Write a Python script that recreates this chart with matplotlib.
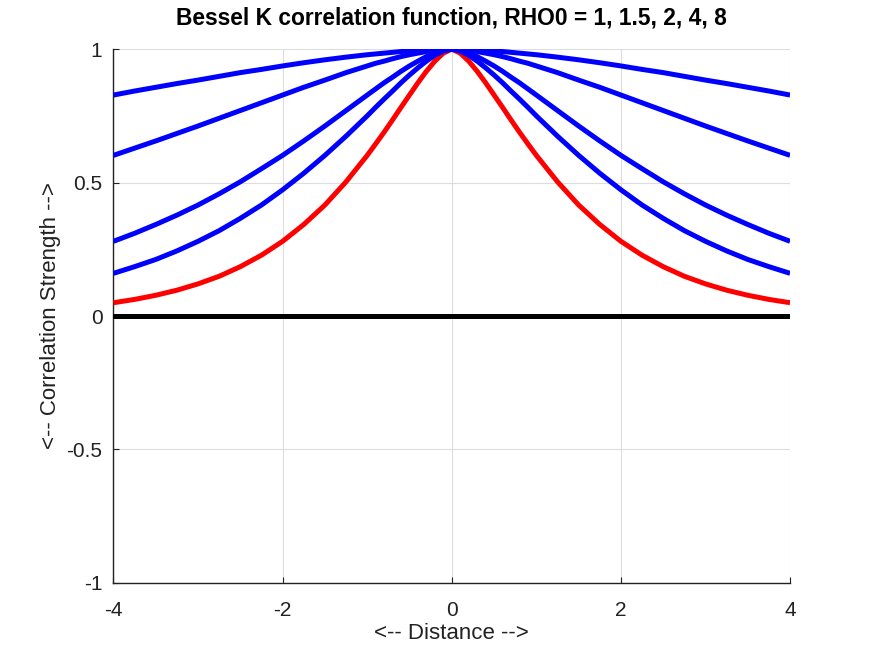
import numpy as np
import matplotlib
matplotlib.use("Agg")
import matplotlib.pyplot as plt

plt.rcParams['font.family'] = ['Liberation Sans', 'DejaVu Sans']

# distances (positive half; curves are symmetric about 0)
dist_half = [0.0, 0.1, 0.2, 0.3, 0.4, 0.5, 0.6, 0.7, 0.8, 0.9, 1.0,
             1.25, 1.5, 1.75, 2.0, 2.25, 2.5, 2.75, 3.0, 3.25, 3.5, 3.75, 4.0]

rho_1 = [1.0, 0.985, 0.955, 0.917, 0.874, 0.828, 0.782, 0.735, 0.689, 0.645, 0.602,
         0.503, 0.416, 0.343, 0.280, 0.228, 0.185, 0.149, 0.1205, 0.0968, 0.0778, 0.0623, 0.0499]
rho_1_5 = [1.0, 0.993, 0.977, 0.955, 0.930, 0.903, 0.874, 0.843, 0.813, 0.782, 0.750,
           0.674, 0.602, 0.535, 0.473, 0.416, 0.366, 0.320, 0.280, 0.244, 0.212, 0.185, 0.160]
rho_2 = [1.0, 0.996, 0.985, 0.972, 0.955, 0.937, 0.917, 0.895, 0.874, 0.851, 0.828,
         0.770, 0.712, 0.656, 0.602, 0.552, 0.503, 0.458, 0.416, 0.378, 0.343, 0.310, 0.280]
rho_4 = [1.0, 0.999, 0.996, 0.991, 0.985, 0.979, 0.972, 0.964, 0.955, 0.947, 0.937,
         0.912, 0.884, 0.857, 0.828, 0.799, 0.770, 0.741, 0.712, 0.684, 0.656, 0.629, 0.602]
rho_8 = [1.0, 1.0, 0.999, 0.997, 0.996, 0.993, 0.991, 0.988, 0.985, 0.982, 0.979,
         0.970, 0.960, 0.949, 0.937, 0.924, 0.912, 0.898, 0.884, 0.871, 0.857, 0.843, 0.828]

xticks = [-4, -2, 0, 2, 4]
yticks = [-1, -0.5, 0, 0.5, 1]
ytick_labels = ['-1', '-0.5', '0', '0.5', '1']


def full(vals):
    v = list(vals)
    return v[:0:-1] + v


dist = [-d for d in dist_half[:0:-1]] + list(dist_half)

fig = plt.figure(figsize=(8.73, 6.55), dpi=100)
ax = fig.add_axes([0.13, 0.11, 0.775, 0.815])

lw = 3.6
ax.plot(dist, full(rho_1), color='#ff0000', lw=lw, solid_capstyle='butt',
        solid_joinstyle='round', zorder=3)
for series in [rho_1_5, rho_2, rho_4, rho_8]:
    ax.plot(dist, full(series), color='#0000ff', lw=lw, solid_capstyle='butt',
            solid_joinstyle='round', zorder=4)
ax.axhline(0, color='black', lw=lw, zorder=5)

ax.set_xlim(-4, 4)
ax.set_ylim(-1, 1)
ax.set_xticks(xticks)
ax.set_xticklabels([str(t) for t in xticks])
ax.set_yticks(yticks)
ax.set_yticklabels(ytick_labels)
ax.grid(True, color='#dddddd', lw=0.8, zorder=0)
ax.set_axisbelow(True)
for s in ['top', 'right']:
    ax.spines[s].set_visible(False)
for s in ['left', 'bottom']:
    ax.spines[s].set_color('#222222')
    ax.spines[s].set_linewidth(1.0)
ax.tick_params(direction='in', length=4, labelsize=15, colors='#222222')
ax.tick_params(axis='x', pad=13)
ax.tick_params(axis='y', pad=8)

ax.set_title('Bessel K correlation function, RHO0 = 1, 1.5, 2, 4, 8',
             fontsize=16.4, fontweight='bold', pad=18)
ax.set_xlabel('<-- Distance -->', fontsize=16, color='#222222', labelpad=2.5)
ax.set_ylabel('<-- Correlation Strength -->', fontsize=16, color='#222222', labelpad=4)

fig.savefig('out.png', dpi=100)
